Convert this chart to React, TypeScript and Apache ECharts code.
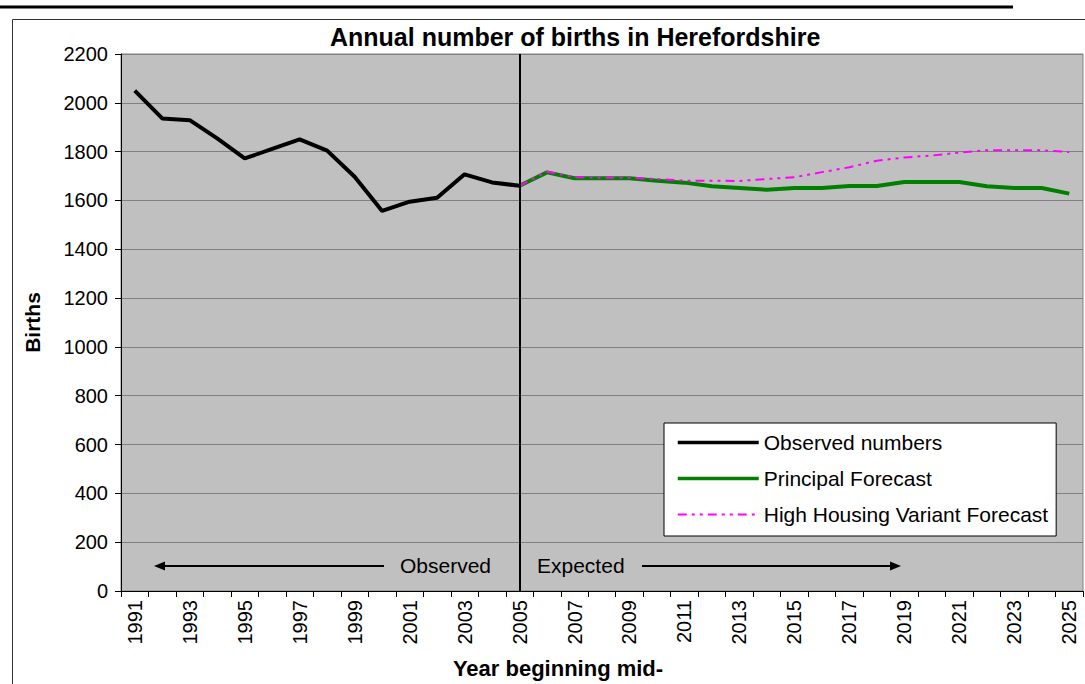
import React, { useEffect, useRef } from "react";
import * as echarts from "echarts";

const years: string[] = [
  "1991","1992","1993","1994","1995","1996","1997","1998","1999","2000",
  "2001","2002","2003","2004","2005","2006","2007","2008","2009","2010",
  "2011","2012","2013","2014","2015","2016","2017","2018","2019","2020",
  "2021","2022","2023","2024","2025",
];

// Observed 1991-2005
const observed: number[] = [
  2050, 1936, 1929, 1854, 1772, 1811, 1850, 1804, 1697, 1557,
  1595, 1611, 1707, 1674, 1660,
];

// Principal forecast 2005-2025
const principal: number[] = [
  1660, 1715, 1691, 1691, 1691, 1681, 1673, 1658, 1651, 1644,
  1651, 1651, 1659, 1659, 1676, 1676, 1676, 1658, 1651, 1651, 1628,
];

// High housing variant forecast 2005-2025
const highHousing: number[] = [
  1660, 1718, 1695, 1693, 1693, 1688, 1681, 1681, 1680, 1688,
  1695, 1716, 1736, 1763, 1776, 1784, 1796, 1806, 1806, 1806, 1798,
];

const seriesNames: string[] = [
  "Observed numbers",
  "Principal Forecast",
  "High Housing Variant Forecast",
];

const FONT = "'Liberation Sans', Arial, sans-serif";

export default function App() {
  const ref = useRef<HTMLDivElement>(null);

  useEffect(() => {
    if (!ref.current) return;
    const chart = echarts.init(ref.current, null, { renderer: "svg" });

    const forecastStart = years.indexOf("2005");
    const pad = (arr: number[], start: number) =>
      years.map((_, i) =>
        i >= start && i - start < arr.length ? arr[i - start] : null
      );

    const option: any = {
      animation: false,
      backgroundColor: "#ffffff",
      textStyle: { fontFamily: FONT, color: "#000" },
      title: {
        text: "Annual number of births in Herefordshire",
        left: 330,
        top: 24,
        padding: 0,
        textStyle: {
          fontFamily: FONT,
          fontSize: 25,
          fontWeight: "bold",
          color: "#000",
        },
      },
      grid: {
        left: 121,
        top: 54,
        width: 962,
        height: 537,
        outerBoundsMode: "none",
        containLabel: false,
        show: true,
        backgroundColor: "#C0C0C0",
        borderColor: "#808080",
        borderWidth: 1,
      },
      legend: {
        orient: "vertical",
        left: 664,
        top: 423,
        padding: [9, 8, 11, 12],
        backgroundColor: "#ffffff",
        borderColor: "#000000",
        borderWidth: 1,
        itemWidth: 81,
        itemHeight: 18,
        itemGap: 15,
        itemStyle: { opacity: 0 },
        textStyle: { fontFamily: FONT, fontSize: 21, color: "#000" },
        data: [
          { name: seriesNames[0], lineStyle: { width: 3.5, color: "#000000" } },
          { name: seriesNames[1], lineStyle: { width: 3.5, color: "#008000" } },
          {
            name: seriesNames[2],
            lineStyle: { width: 2, color: "#FF00FF", type: [9, 5, 3, 5, 3, 5] },
          },
        ],
      },
      xAxis: {
        type: "category",
        data: years,
        boundaryGap: true,
        name: "Year beginning mid-",
        nameLocation: "middle",
        nameGap: 66,
        nameTextStyle: {
          fontFamily: FONT,
          fontSize: 22,
          fontWeight: "bold",
          color: "#000",
          padding: [0, 88, 0, 0],
        },
        axisLine: { lineStyle: { color: "#000", width: 1 } },
        axisTick: { show: true, interval: 0, length: 6, lineStyle: { color: "#000" } },
        axisLabel: {
          interval: 1,
          rotate: 90,
          margin: 9,
          fontFamily: FONT,
          fontSize: 20,
          color: "#000",
        },
        splitLine: { show: false },
      },
      yAxis: {
        type: "value",
        min: 0,
        max: 2200,
        interval: 200,
        name: "Births",
        nameLocation: "middle",
        nameRotate: 90,
        nameGap: 78,
        nameTextStyle: {
          fontFamily: FONT,
          fontSize: 21,
          fontWeight: "bold",
          color: "#000",
        },
        axisLine: { show: true, lineStyle: { color: "#000", width: 1 } },
        axisTick: { show: true, length: 6, lineStyle: { color: "#000" } },
        axisLabel: {
          margin: 13,
          fontFamily: FONT,
          fontSize: 20,
          color: "#000",
          formatter: (v: number) => String(v),
        },
        splitLine: { show: true, lineStyle: { color: "#808080", width: 1 } },
      },
      series: [
        {
          name: seriesNames[1],
          type: "line",
          data: pad(principal, forecastStart),
          symbol: "none",
          connectNulls: false,
          lineStyle: { color: "#008000", width: 4 },
          itemStyle: { color: "#008000" },
          z: 3,
        },
        {
          name: seriesNames[2],
          type: "line",
          data: pad(highHousing, forecastStart),
          symbol: "none",
          lineStyle: {
            color: "#FF00FF",
            width: 2,
            type: [9, 5, 3, 5, 3, 5],
          },
          itemStyle: { color: "#FF00FF" },
          z: 4,
        },
        {
          name: seriesNames[0],
          type: "line",
          data: pad(observed, 0),
          symbol: "none",
          lineStyle: { color: "#000000", width: 4 },
          itemStyle: { color: "#000000" },
          z: 5,
          markLine: {
            silent: true,
            symbol: "none",
            label: { show: false },
            lineStyle: { color: "#000", width: 2, type: "solid" },
            data: [{ xAxis: "2005" }],
          },
        },
      ],
      graphic: [
        {
          type: "line",
          shape: { x1: 0, y1: 7, x2: 1013, y2: 7 },
          style: { stroke: "#000", lineWidth: 3 },
          silent: true,
        },
        {
          type: "rect",
          shape: { x: 12.5, y: 19.5, width: 1100, height: 700 },
          style: { fill: "none", stroke: "#333", lineWidth: 1 },
          silent: true,
          z: -10,
        },
        {
          type: "line",
          shape: { x1: 160, y1: 566, x2: 384, y2: 566 },
          style: { stroke: "#000", lineWidth: 2 },
          silent: true,
          z: 100,
        },
        {
          type: "polygon",
          shape: { points: [[154, 566], [165, 561.5], [165, 570.5]] },
          style: { fill: "#000" },
          silent: true,
          z: 100,
        },
        {
          type: "text",
          x: 400,
          y: 565,
          style: {
            text: "Observed",
            fontFamily: FONT,
            fontSize: 21,
            fill: "#000",
            verticalAlign: "middle",
            align: "left",
          },
          silent: true,
          z: 100,
        },
        {
          type: "text",
          x: 537,
          y: 565,
          style: {
            text: "Expected",
            fontFamily: FONT,
            fontSize: 21,
            fill: "#000",
            verticalAlign: "middle",
            align: "left",
          },
          silent: true,
          z: 100,
        },
        {
          type: "line",
          shape: { x1: 642, y1: 566, x2: 895, y2: 566 },
          style: { stroke: "#000", lineWidth: 2 },
          silent: true,
          z: 100,
        },
        {
          type: "polygon",
          shape: { points: [[901, 566], [890, 561.5], [890, 570.5]] },
          style: { fill: "#000" },
          silent: true,
          z: 100,
        },
      ],
    };

    chart.setOption(option);
    return () => chart.dispose();
  }, []);

  return (
    <div
      ref={ref}
      style={{
        position: "fixed",
        left: 0,
        top: 0,
        width: 1085,
        height: 684,
        background: "#fff",
      }}
    />
  );
}
